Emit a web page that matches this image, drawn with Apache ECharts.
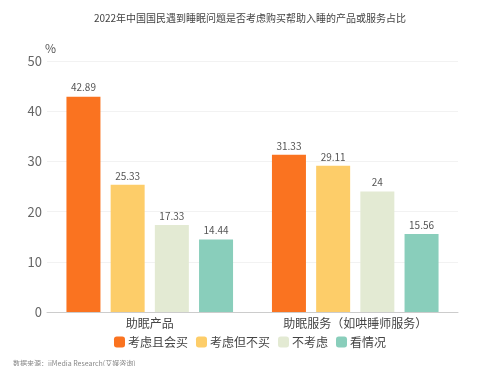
<!DOCTYPE html>
<html><head><meta charset="utf-8">
<script src="https://cdn.jsdelivr.net/npm/echarts@6/dist/echarts.min.js"></script>
<style>html,body{margin:0;padding:0;background:#fff}#c{width:500px;height:366px}</style>
</head><body><div id="c"></div>
<script>
const categories = ['助眠产品', '助眠服务（如哄睡师服务）'];
const seriesNames = ['考虑且会买', '考虑但不买', '不考虑', '看情况'];
const buyYes = [42.89, 31.33];
const buyNo = [25.33, 29.11];
const notConsider = [17.33, 24];
const depends = [14.44, 15.56];
const yTicks = [0, 10, 20, 30, 40, 50];
const colors = ['#FA7320', '#FDCD69', '#E3EAD3', '#89CEBB'];
const values = [buyYes, buyNo, notConsider, depends];

const chart = echarts.init(document.getElementById('c'));
chart.setOption({
  animation: false,
  textStyle: {fontFamily: '"Noto Sans CJK SC", "Open Sans", sans-serif'},
  title: [{
    text: '2022年中国国民遇到睡眠问题是否考虑购买帮助入睡的产品或服务占比',
    left: 'center', top: 8,
    textStyle: {fontSize: 10, fontWeight: 'normal', color: '#444'}
  }, {
    text: '数据来源：iiMedia Research(艾媒咨询)',
    left: 8, top: 355,
    textStyle: {fontSize: 7, fontWeight: 'normal', color: '#888'}
  }],
  legend: {
    top: 331, left: 'center',
    itemWidth: 11, itemHeight: 11, itemGap: 8,
    icon: 'roundRect',
    textStyle: {fontSize: 12, color: '#444', padding: [0, 0, 0, -2]},
    data: seriesNames
  },
  grid: {left: 47, right: 42, top: 61, bottom: 54},
  xAxis: {
    type: 'category', data: categories,
    axisLine: {lineStyle: {color: '#ccc'}},
    axisTick: {show: false},
    axisLabel: {fontSize: 12, color: '#444', margin: 5}
  },
  yAxis: {
    type: 'value', min: yTicks[0], max: yTicks[yTicks.length - 1], interval: 10,
    name: '%', nameGap: 6,
    nameTextStyle: {fontSize: 12, color: '#555', align: 'left', padding: [0, 0, 0, -2]},
    axisLine: {show: false}, axisTick: {show: false},
    axisLabel: {fontSize: 13, color: '#666', margin: 5},
    splitLine: {lineStyle: {color: '#f2f2f2'}}
  },
  series: seriesNames.map((n, i) => ({
    name: n, type: 'bar', data: values[i],
    barWidth: 34, barGap: '30%',
    itemStyle: {color: colors[i]},
    label: {show: true, position: 'top', fontSize: 10, color: '#555', distance: 4}
  }))
});
</script></body></html>
